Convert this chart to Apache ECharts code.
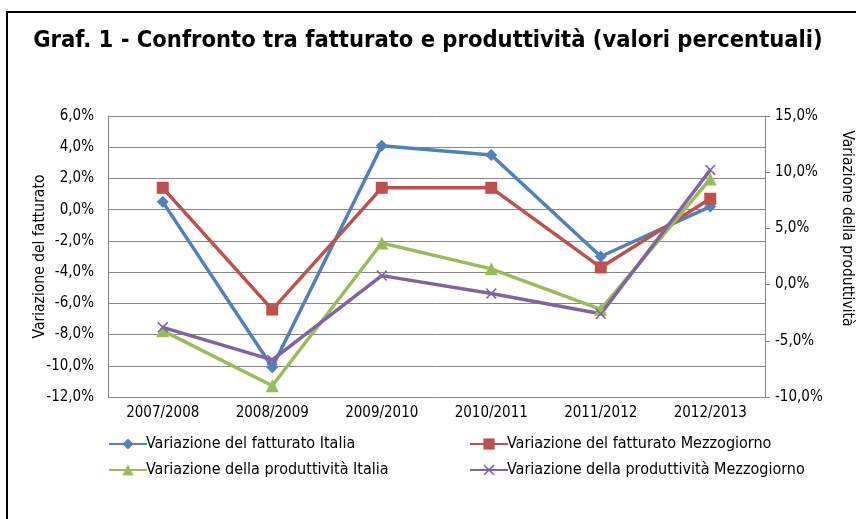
<!DOCTYPE html>
<html>
<head>
<meta charset="utf-8">
<script src="https://cdn.jsdelivr.net/npm/echarts@6/dist/echarts.min.js"></script>
<style>html,body{margin:0;padding:0;background:#fff}#app{width:856px;height:519px}</style>
</head>
<body>
<div id="app"></div>
<script>
// dati
const anni = ['2007/2008', '2008/2009', '2009/2010', '2010/2011', '2011/2012', '2012/2013'];
const fattItalia = [0.5, -10.1, 4.1, 3.5, -3.0, 0.2];
const fattMezzo = [1.4, -6.4, 1.4, 1.4, -3.7, 0.7];
const prodItalia = [-4.1, -9.0, 3.7, 1.4, -2.2, 9.4];
const prodMezzo = [-3.8, -6.7, 0.8, -0.8, -2.6, 10.2];
const nomi = [
	'Variazione del fatturato Italia',
	'Variazione del fatturato Mezzogiorno',
	'Variazione della produttività Italia',
	'Variazione della produttività Mezzogiorno'
];

const font = "'Liberation Sans Narrow', 'DejaVu Sans Condensed', sans-serif";
const crossPath = 'path://M0,1L1,0L5,4L9,0L10,1L6,5L10,9L9,10L5,6L1,10L0,9L4,5Z';
const pct = v => v.toFixed(1).replace('.', ',') + '%';

let chart = echarts.init(document.getElementById('app'));

function legendAt(name, left, top) {
	return {
		data: [name],
		left: left,
		top: top,
		itemWidth: 38,
		itemHeight: 14,
		itemGap: 0,
		padding: 0,
		textStyle: { fontFamily: font, fontSize: 16, color: '#000', padding: [0, 0, 0, -6] }
	};
}

let option = {
	backgroundColor: '#fff',
	color: ['#4F81BD', '#C0504D', '#9BBB59', '#8064A2'],
	title: {
		text: 'Graf. 1 - Confronto tra fatturato e produttività (valori percentuali)',
		left: 'center',
		top: 24,
		textStyle: { fontFamily: font, fontSize: 23.5, fontWeight: 'bold', color: '#000' }
	},
	graphic: [{
		type: 'rect',
		shape: { x: 7, y: 12, width: 900, height: 600 },
		style: { fill: 'none', stroke: '#000', lineWidth: 2 },
		silent: true
	}],
	legend: [
		legendAt(nomi[0], 108, 436),
		legendAt(nomi[1], 469, 436),
		legendAt(nomi[2], 108, 462),
		legendAt(nomi[3], 469, 462)
	],
	grid: { left: 108, right: 91, top: 116, bottom: 122, outerBoundsMode: 'none' },
	xAxis: {
		type: 'category',
		data: anni,
		boundaryGap: true,
		axisLine: { lineStyle: { color: '#868686' } },
		axisTick: { show: false },
		axisLabel: { fontFamily: font, fontSize: 15, color: '#000', margin: 9 }
	},
	yAxis: [{
		type: 'value',
		min: -12,
		max: 6,
		interval: 2,
		name: 'Variazione del fatturato',
		nameLocation: 'middle',
		nameGap: 60,
		nameMoveOverlap: false,
		nameTextStyle: { fontFamily: font, fontSize: 15.5, color: '#000' },
		axisLine: { show: true, lineStyle: { color: '#868686' } },
		axisTick: { show: false },
		axisLabel: { fontFamily: font, fontSize: 15, color: '#000', margin: 14, formatter: pct },
		splitLine: { lineStyle: { color: '#868686', width: 1 } }
	}, {
		type: 'value',
		min: -10,
		max: 15,
		interval: 5,
		position: 'right',
		name: 'Variazione della produttività',
		nameLocation: 'middle',
		nameGap: 74,
		nameMoveOverlap: false,
		nameRotate: -90,
		nameTextStyle: { fontFamily: font, fontSize: 15.5, color: '#000', padding: [0, 56, 0, 0] },
		axisLine: { show: true, lineStyle: { color: '#868686' } },
		axisTick: { show: true, length: 5, lineStyle: { color: '#868686' } },
		axisLabel: { fontFamily: font, fontSize: 15, color: '#000', margin: 10, formatter: pct },
		splitLine: { show: false }
	}],
	series: [{
		name: nomi[0],
		type: 'line',
		yAxisIndex: 0,
		data: fattItalia,
		symbol: 'diamond',
		symbolSize: 12,
		lineStyle: { width: 3.5 }
	}, {
		name: nomi[1],
		type: 'line',
		yAxisIndex: 0,
		data: fattMezzo,
		symbol: 'rect',
		symbolSize: 12,
		lineStyle: { width: 3.5 }
	}, {
		name: nomi[2],
		type: 'line',
		yAxisIndex: 1,
		data: prodItalia,
		symbol: 'triangle',
		symbolSize: 13,
		lineStyle: { width: 3.5 }
	}, {
		name: nomi[3],
		type: 'line',
		yAxisIndex: 1,
		data: prodMezzo,
		symbol: crossPath,
		symbolSize: 11,
		lineStyle: { width: 3.5 }
	}],
	animation: false
};

chart.setOption(option);
</script>
</body>
</html>
